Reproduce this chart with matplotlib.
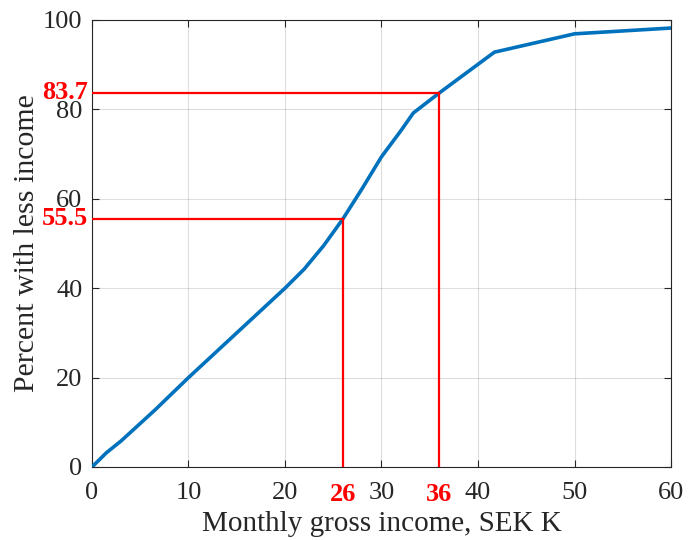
import matplotlib
matplotlib.use("Agg")
import matplotlib.pyplot as plt
import matplotlib.transforms as mtransforms

# Cumulative income distribution (percent of people earning less)
income = [0, 1.5, 3, 6.5, 10, 15, 20, 22, 24, 26, 28, 30, 32, 33.3, 36, 41.7, 50, 60]
percent = [0, 3.2, 5.8, 12.7, 20, 30, 40, 44.3, 49.5, 55.5, 62.3, 69.4, 75.2, 79.2, 83.7, 92.8, 96.9, 98.2]

# Highlighted points: (income, percent)
marks_x = [26, 36]
marks_y = [55.5, 83.7]

plt.rcParams['font.family'] = ['Liberation Serif', 'DejaVu Serif']

fig = plt.figure(figsize=(6.88, 5.40), dpi=100)
ax = fig.add_axes([0.1337, 0.1352, 0.8416, 0.8278])

ax.plot(income, percent, color='#0072BD', linewidth=2.6, zorder=3)

red = '#FF0000'
for x, y in zip(marks_x, marks_y):
    ax.plot([0, x], [y, y], color=red, linewidth=1.6, zorder=4)
    ax.plot([x, x], [0, y], color=red, linewidth=1.6, zorder=4)

ax.set_xlim(0, 60)
ax.set_ylim(0, 100)
ax.set_xticks(range(0, 61, 10))
ax.set_yticks(range(0, 101, 20))
ax.grid(True, color='#262626', alpha=0.15, linewidth=0.8)
ax.tick_params(direction='in', top=True, right=True, length=5,
               labelsize=19, colors='#262626')
ax.tick_params(axis='x', pad=11)
ax.tick_params(axis='y', pad=7)
for s in ax.spines.values():
    s.set_color('#262626')
    s.set_linewidth(0.8)

# Red value labels next to the axes
tx = mtransforms.blended_transform_factory(ax.transData, ax.transAxes)
ty = mtransforms.blended_transform_factory(ax.transAxes, ax.transData)
for x in marks_x:
    ax.text(x, -0.036, f"{x:g}", transform=tx, ha='center', va='top',
            color=red, fontsize=19, fontweight='bold')
for y in marks_y:
    ax.text(-0.007, y, f"{y:g}", transform=ty, ha='right', va='center',
            color=red, fontsize=19, fontweight='bold')

ax.set_xlabel("Monthly gross income, SEK K", fontsize=21, color='#262626', labelpad=5)
ax.set_ylabel("Percent with less income", fontsize=21.5, color='#262626', labelpad=2)

fig.savefig("out.png", dpi=100)
